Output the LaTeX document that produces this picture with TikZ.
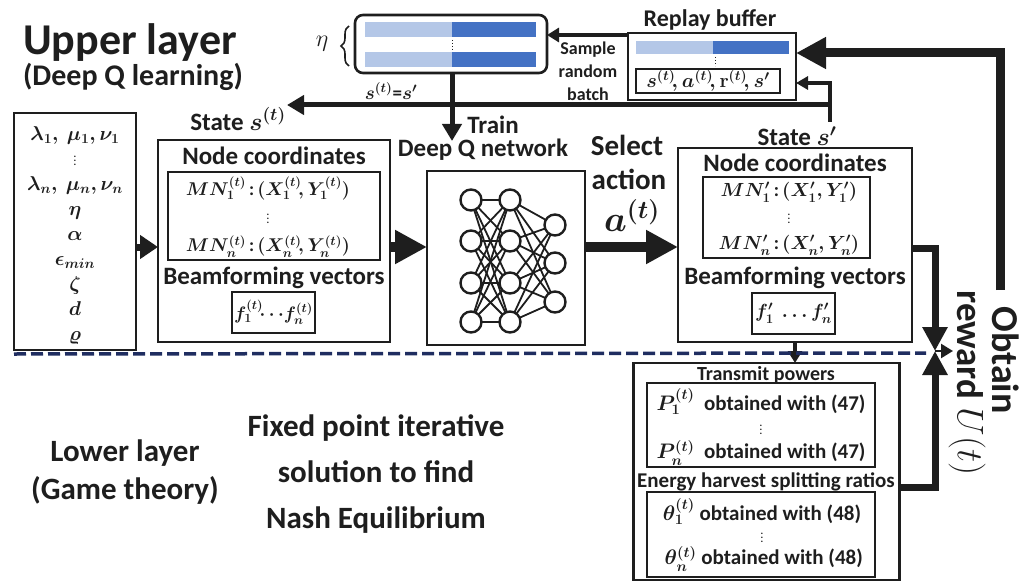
\RequirePackage{fix-cm}
\documentclass[tikz,border=0pt]{standalone}
\usepackage{fontspec}
\setmainfont{Carlito}
\usetikzlibrary{arrows.meta,decorations.pathreplacing}
\definecolor{lightbar}{RGB}{180,199,231}
\definecolor{darkbar}{RGB}{68,114,196}
\definecolor{navyline}{RGB}{31,45,96}
\definecolor{ink}{RGB}{30,30,30}
\newcommand\vd{{\fontsize{10}{10}\selectfont\vbox{\baselineskip4pt\lineskiplimit0pt\hbox{.}\hbox{.}\hbox{.}}}}
\newcommand\tightlines{\setlength{\lineskiplimit}{-60pt}\setlength{\lineskip}{0pt}}
\begin{document}
\begin{tikzpicture}[x=1pt,y=-1pt,
  box/.style={draw=ink, line width=2.6pt, inner sep=0pt, outer sep=0pt},
  ibox/.style={draw=ink, line width=2.2pt, inner sep=0pt, outer sep=0pt},
  tx/.style 2 args={inner sep=0pt, align=center, text=ink, font=\bfseries\boldmath\fontsize{#1}{#2}\selectfont\tightlines},
  neuron/.style={circle, draw=ink, line width=2.4pt, minimum size=21pt, inner sep=0pt, outer sep=0pt},
  syn/.style={draw=ink, line width=1.8pt},
  bigarrow/.style={draw=ink, line width=10pt, -{Triangle[length=32pt,width=32pt]}},
  midarrow/.style={draw=ink, line width=7pt, -{Triangle[length=24pt,width=24pt]}},
  medarrow/.style={draw=ink, line width=5pt, -{Triangle[length=17pt,width=19pt]}},
  thinarrow/.style={draw=ink, line width=3.5pt, -{Triangle[length=12pt,width=14pt]}},
]
\useasboundingbox (0,0) rectangle (1030,583);

% ---------- titles
\node[tx={44}{44}] (ul) at (130,43) {Upper layer};
\node[tx={30}{30}] (dql) at (133,77) {(Deep Q learning)};
\node[tx={31}{38}] (ll) at (125,472) {Lower layer\\(Game theory)};
\node[tx={31}{46}] (fp) at (376,474) {Fixed point iterative\\solution to find\\Nash Equilibrium};

% ---------- sampled batch
\node[box, rounded corners=8pt, minimum width=192pt, minimum height=58pt] (batch) at (451,44) {};
\fill[lightbar] (365,22) rectangle (452,37);
\fill[darkbar] (452,22) rectangle (536,37);
\fill[lightbar] (365,52) rectangle (452,67);
\fill[darkbar] (452,52) rectangle (536,67);
\draw[ink, line width=1pt, dotted] (452,40) -- (452,50);
\draw[ink, line width=1.6pt, decorate, decoration={brace, amplitude=8pt}] (349,66) -- (349,26);
\node[inner sep=0pt, text=ink, font=\fontsize{24}{24}\selectfont] (eta) at (322,44) {$\eta$};
\node[tx={19}{19}] (eq) at (391,91) {$s^{(t)}$=$s'$};

% ---------- replay buffer
\node[box, minimum width=168pt, minimum height=67pt] (buf) at (712,66.5) {};
\node[tx={24}{24}] (buft) at (710,20) {Replay buffer};
\fill[lightbar] (636,41) rectangle (713,54);
\fill[darkbar] (713,41) rectangle (789,54);
\draw[ink, line width=1pt, dotted] (715,57) -- (715,66);
\node[ibox, minimum width=144pt, minimum height=24pt] (tup) at (708,81) {};
\node[tx={20}{20}] (tupt) at (tup) {$s^{(t)}\!,a^{(t)}\!,\mathbf{r}^{(t)}\!,s'$};
\node[tx={18}{23}] (srb) at (588,71) {Sample\\random\\batch};

% ---------- labels
\node[tx={25}{25}] (st) at (238,119) {State $s^{(t)}$};
\node[tx={25}{25}] (train) at (493,125) {Train};
\node[tx={25}{25}] (dqnl) at (483,150) {Deep Q network};
\node[tx={29}{29}] (sel) at (627,145) {Select};
\node[tx={29}{29}] (act) at (629,179) {action};
\node[tx={36}{36}] (aact) at (632,216) {$a^{(t)}$};
\node[tx={25}{25}] (sp) at (797,136) {State $s'$};

% ---------- parameter box
\node[box, minimum width=122pt, minimum height=237pt] (par) at (75,231.5) {};
\node[tx={20}{25}] (partx) at (75,235) {$\lambda_1,\ \mu_1,\nu_1$\\ \vd\\ $\lambda_n,\ \mu_n,\nu_n$\\ $\eta$\\ $\alpha$\\ $\epsilon_{min}$\\ $\zeta$\\ $d$\\ $\varrho$};

% ---------- current state box
\node[box, minimum width=232pt, minimum height=202pt] (cs) at (274,241) {};
\node[tx={25}{25}] (cs1) at (274,156) {Node coordinates};
\node[ibox, minimum width=212pt, minimum height=88pt] (csmn) at (274,216) {};
\node[tx={18.5}{28}] (cs2) at (268,217) {$MN_1^{(t)}$\,:\,$(X_1^{(t)}\!,Y_1^{(t)})$\\ \vd\\ $MN_n^{(t)}$\,:\,$(X_n^{(t)}\!,Y_n^{(t)})$};
\node[tx={25}{25}] (cs5) at (274,278) {Beamforming vectors};
\node[ibox, minimum width=83pt, minimum height=41pt] (csf) at (273.5,312.5) {};
\node[tx={18}{18}] (cs6) at (csf) {$f_1^{(t)}\!\!\cdots\! f_n^{(t)}$};

% ---------- DQN box
\node[box, minimum width=158pt, minimum height=174pt] (dqn) at (506,258) {};
\foreach \yy [count=\i] in {200,241,283,322} {
  \node[neuron] (a\i) at (471,\yy) {};
  \node[neuron] (b\i) at (510,\yy) {};
}
\foreach \yy [count=\i] in {225,263,302}
  \node[neuron] (c\i) at (555,\yy) {};
\foreach \i in {1,...,4} {
  \foreach \j in {1,...,4} \draw[syn] (a\i) -- (b\j);
  \foreach \j in {1,...,3} \draw[syn] (b\i) -- (c\j);
}

% ---------- next state box
\node[box, minimum width=234pt, minimum height=194pt] (ns) at (795,245) {};
\node[tx={25}{25}] (ns1) at (795,163) {Node coordinates};
\node[ibox, minimum width=167pt, minimum height=81pt] (nsmn) at (786.5,217.5) {};
\node[tx={19}{26.5}] (ns2) at (789,219) {$MN'_1$\,:\,$(X'_1,Y'_1)$\\ \vd\\ $MN'_n$\,:\,$(X'_n,Y'_n)$};
\node[tx={25}{25}] (ns5) at (795,278) {Beamforming vectors};
\node[ibox, minimum width=83pt, minimum height=41pt] (nsf) at (793.5,313.5) {};
\node[tx={19}{19}] (ns6) at (nsf) {$f'_1\ \ldots f'_n$};

% ---------- lower layer box
\node[box, minimum width=266pt, minimum height=217pt] (low) at (766.5,471.5) {};
\node[tx={20}{20}] (lo1) at (766,375) {Transmit powers};
\node[ibox, minimum width=228pt, minimum height=84pt] (pbox) at (761,425) {};
\node[tx={21}{24}] (lo2) at (761,427) {$P_1^{(t)}$\ \ obtained with (47)\\ \vd\\ $P_n^{(t)}$\ \ obtained with (47)};
\node[tx={21}{21}] (lo5) at (766,482) {Energy harvest splitting ratios};
\node[ibox, minimum width=228pt, minimum height=85pt] (tbox) at (761,534.5) {};
\node[tx={21}{22}] (lo6) at (762,535) {$\theta_1^{(t)}$ obtained with (48)\\ \vd\\ \,$\theta_n^{(t)}$ obtained with (48)};

% ---------- reward text
\node[tx={38}{38}, rotate=-90] (obt) at (1006,360) {Obtain};
\node[inner sep=0pt, text=ink, font=\fontsize{37}{37}\selectfont, rotate=-90] (rew) at (967,383) {\textbf{reward} $U(t)$};

% ---------- helper coordinates
\coordinate (r35) at (0,35);
\coordinate (r52) at (0,53);
\coordinate (r83) at (0,83);
\coordinate (r105) at (0,105);
\coordinate (r247) at (0,247);
\coordinate (r248) at (0,248);
\coordinate (r487) at (0,487);
\coordinate (trn) at (452,141);
\coordinate (sv) at (830,122);
\coordinate (sl) at (287,105);
\coordinate (jn) at (935,351);
\coordinate (jr) at (953,351);
\coordinate (ob) at (1000,290);
\coordinate (dl) at (14,354);
\coordinate (dr) at (926,353);

% ---------- connectors
\draw[draw=ink, line width=4pt, -{Triangle[length=12pt,width=14pt]}] (buf.west |- r35) -- (batch.east |- r35);
\draw[medarrow] (batch.south -| trn) -- (trn);
\draw[draw=ink, line width=4pt, -{Triangle[length=12pt,width=13pt]}] (sv) |- (buf.east |- r83);
\draw[medarrow] (sv |- r105) -- (sl);
\draw[draw=ink, line width=7pt, -{Triangle[length=18pt,width=23pt]}] (par.east |- r247) -- (cs.west |- r247);
\draw[bigarrow] (cs.east |- r247) -- (dqn.west |- r247);
\draw[bigarrow] (dqn.east |- r247) -- (ns.west |- r247);
\draw[midarrow] (ns.east |- r248) -| (jn);
\draw[midarrow] (low.east |- r487) -| (jn);
\draw[thinarrow] (ns.south) -- (ns.south |- low.north);
\draw[navyline, line width=3.5pt, dash pattern=on 12pt off 5pt] (dl) -- (dr);
\draw[thinarrow, line width=2.5pt] (jn) -- (jr);
\draw[draw=ink, line width=9pt, -{Triangle[length=30pt,width=30pt]}] (ob) |- (buf.east |- r52);
\end{tikzpicture}
\end{document}
